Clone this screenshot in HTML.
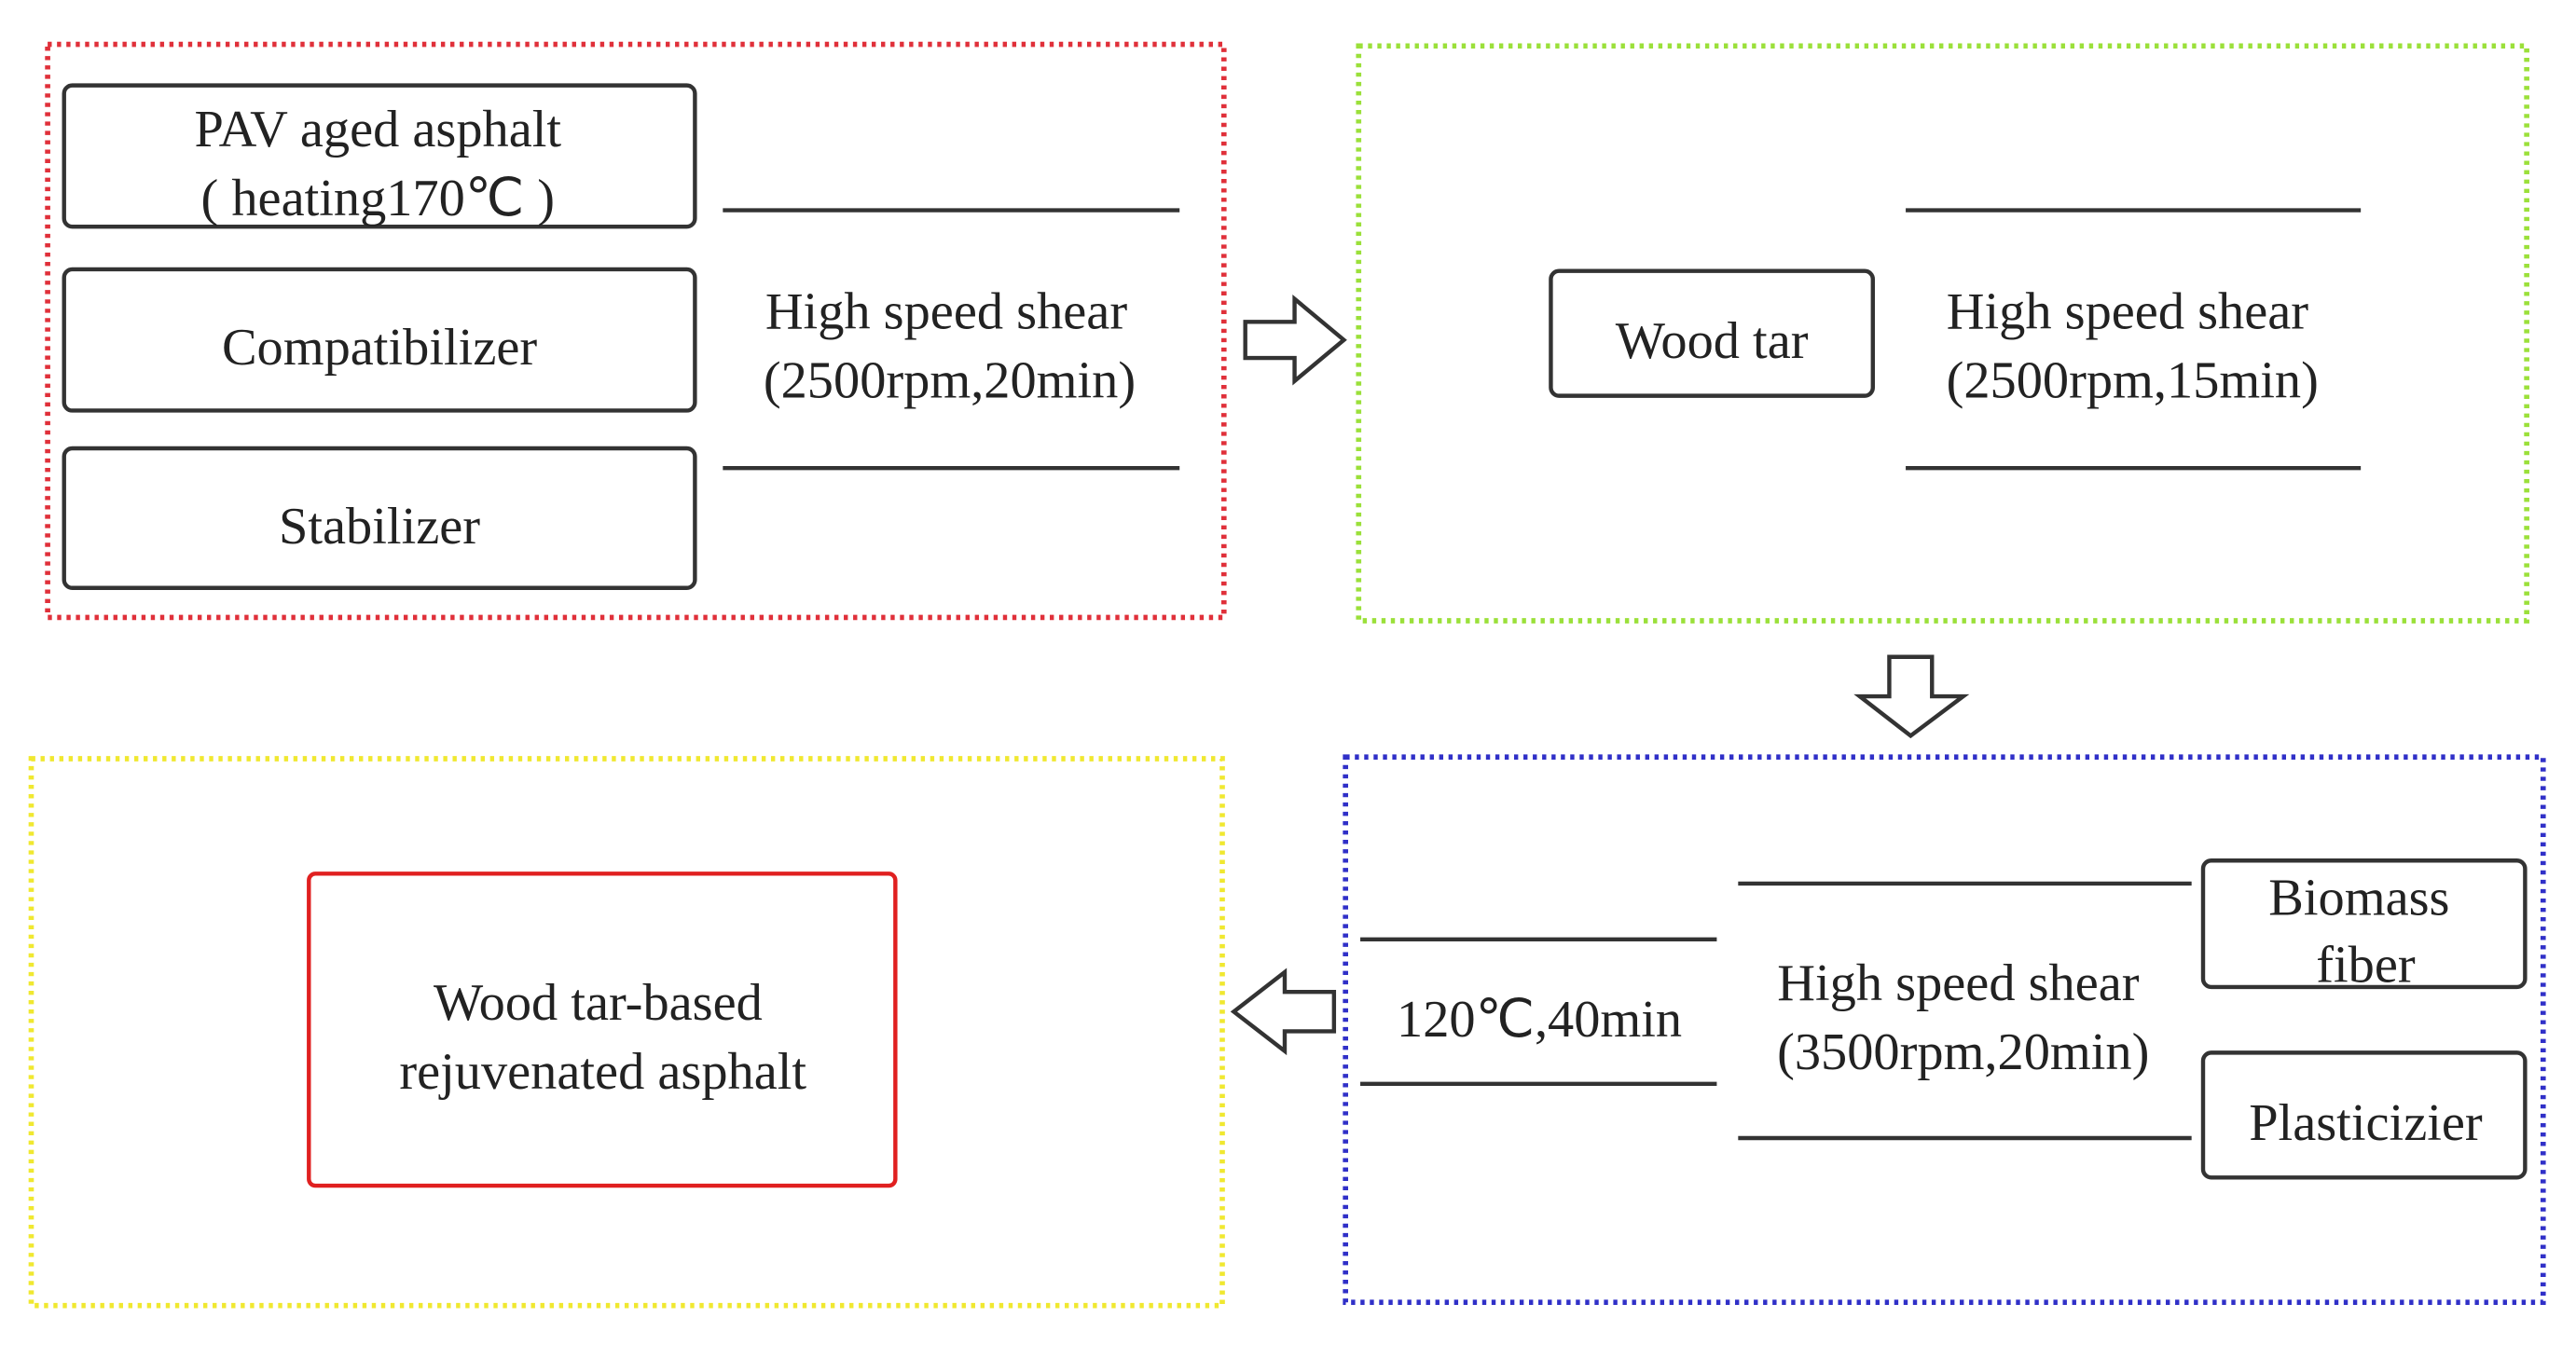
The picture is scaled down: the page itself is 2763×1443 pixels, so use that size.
<!DOCTYPE html>
<html><head><meta charset="utf-8"><style>html,body{margin:0;padding:0;background:#fff;}svg{display:block}</style></head>
<body>
<svg width="2763" height="1443" viewBox="0 0 1568 819" preserveAspectRatio="none" xmlns="http://www.w3.org/2000/svg" font-family="Liberation Serif, serif" font-size="32" fill="#222">
<g fill="none" stroke-width="3.2" stroke-dasharray="2.5 3.2">
<rect x="29" y="27" width="716" height="349" stroke="#e0303a"/>
<rect x="827" y="28" width="711" height="350" stroke="#9be03a"/>
<rect x="19" y="462" width="725" height="333" stroke="#f0e830"/>
<rect x="819" y="461" width="729" height="332" stroke="#3030c8"/>
</g>
<g fill="#fff" stroke="#333" stroke-width="2.5">
<rect x="39" y="52" width="384" height="86" rx="5"/>
<rect x="39" y="164" width="384" height="86" rx="5"/>
<rect x="39" y="273" width="384" height="85" rx="5"/>
<rect x="944" y="165" width="196" height="76" rx="5"/>
<rect x="1341" y="524" width="196" height="77" rx="5"/>
<rect x="1341" y="641" width="196" height="76" rx="5"/>
<rect x="188" y="532" width="357" height="190" rx="4" stroke="#e02020"/>
</g>
<g stroke="#333" stroke-width="2.5">
<line x1="440" y1="128" x2="718" y2="128"/><line x1="440" y1="285" x2="718" y2="285"/>
<line x1="1160" y1="128" x2="1437" y2="128"/><line x1="1160" y1="285" x2="1437" y2="285"/>
<line x1="828" y1="572" x2="1045" y2="572"/><line x1="828" y1="660" x2="1045" y2="660"/>
<line x1="1058" y1="538" x2="1334" y2="538"/><line x1="1058" y1="693" x2="1334" y2="693"/>
</g>
<g fill="#fff" stroke="#333" stroke-width="2.5" stroke-linejoin="miter">
<polygon points="758,196 788,196 788,182 818,207 788,232 788,218 758,218"/>
<polygon points="1150,400 1176,400 1176,424 1195,424 1163,448 1132,424 1150,424"/>
<polygon points="812,604 782,604 782,592 751,616 782,640 782,628 812,628"/>
</g>
<g text-anchor="middle">
<text x="230" y="89">PAV aged asphalt</text>
<text x="230" y="131">( heating170℃ )</text>
<text x="231" y="222">Compatibilizer</text>
<text x="231" y="331">Stabilizer</text>
<text x="576" y="200">High speed shear</text>
<text x="578" y="242">(2500rpm,20min)</text>
<text x="1042" y="218">Wood tar</text>
<text x="1295" y="200">High speed shear</text>
<text x="1298" y="242">(2500rpm,15min)</text>
<text x="937" y="631">120℃,40min</text>
<text x="1192" y="609">High speed shear</text>
<text x="1195" y="651">(3500rpm,20min)</text>
<text x="1436" y="557">Biomass</text>
<text x="1440" y="598">fiber</text>
<text x="1440" y="694">Plasticizier</text>
<text x="364" y="621">Wood tar-based</text>
<text x="367" y="663">rejuvenated asphalt</text>
</g>
</svg>
</body></html>
